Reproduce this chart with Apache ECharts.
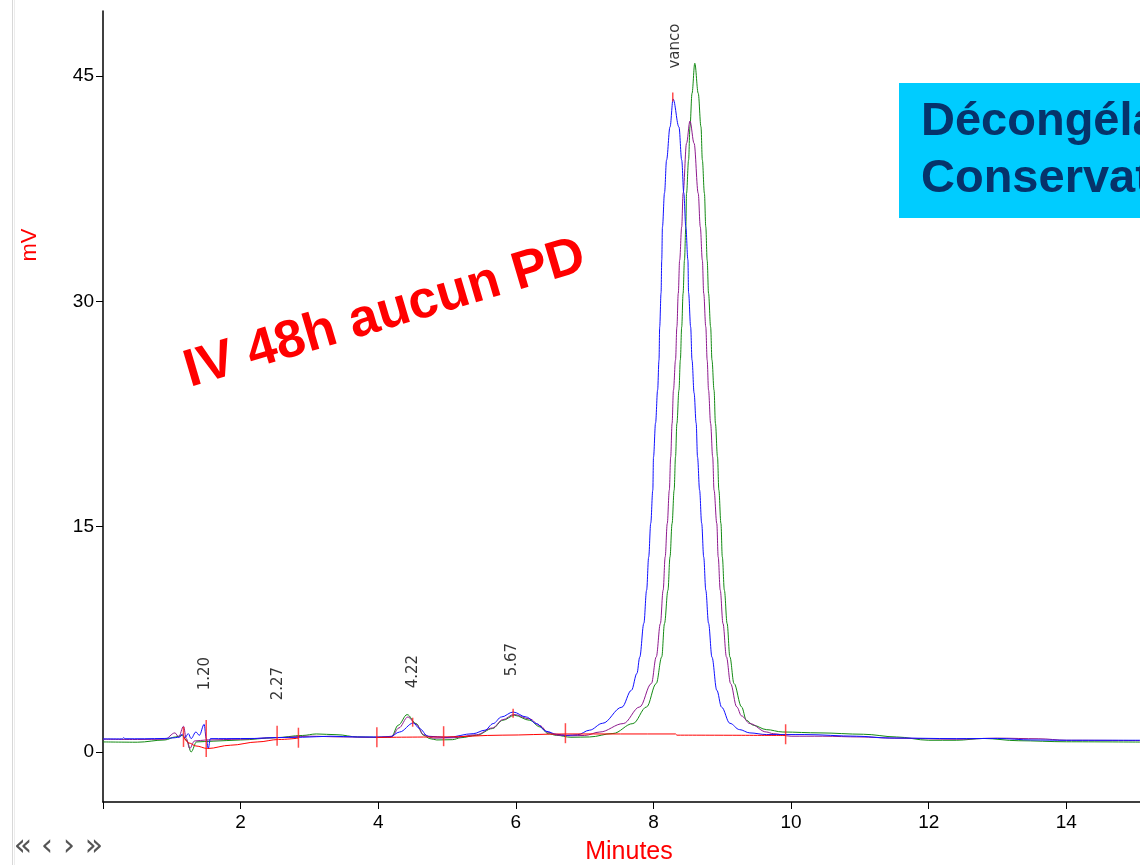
<!DOCTYPE html>
<html>
<head>
<meta charset="utf-8">
<script src="https://cdn.jsdelivr.net/npm/echarts@6.0.0/dist/echarts.min.js"></script>
<style>
  html, body { margin: 0; padding: 0; background: #fff; }
  #chrom { width: 1140px; height: 865px; }
</style>
</head>
<body>
<div id="chrom"></div>
<script>
// traces: [minutes, mV]
var blueTrace = [
  [0, 0.87], [0.28, 0.87], [0.3, 0.95], [0.32, 0.88], [0.6, 0.88], [0.9, 0.9], [1.05, 0.95],
  [1.12, 1.0], [1.15, 1.2], [1.19, 0.95], [1.24, 1.22], [1.28, 0.89], [1.35, 1.33], [1.40, 1.11],
  [1.47, 1.84], [1.50, 0.9], [1.53, 0.23], [1.56, 0.89], [1.8, 0.89], [2.2, 0.9], [2.5, 0.96],
  [2.9, 0.98], [3.3, 1.05], [3.7, 1.0], [4.17, 1.0], [4.31, 1.33], [4.51, 1.93], [4.60, 1.56],
  [4.72, 1.05], [5.0, 0.97], [5.38, 1.22], [5.55, 1.45], [5.67, 1.89], [5.79, 2.33], [5.96, 2.66],
  [6.15, 2.33], [6.30, 1.89], [6.44, 1.38], [6.59, 1.18], [6.74, 1.11], [6.9, 1.15],
  [7.07, 1.45], [7.26, 1.91], [7.54, 2.98], [7.68, 4.11], [7.76, 5.24], [7.80, 6.31], [7.86, 8.57],
  [7.90, 10.77], [7.93, 12.97], [7.96, 15.23], [7.99, 17.43], [8.00, 19.63], [8.03, 21.9],
  [8.06, 24.1], [8.08, 26.09], [8.09, 28.3], [8.11, 30.56], [8.12, 32.76], [8.13, 34.95],
  [8.16, 37.22], [8.19, 39.41], [8.24, 41.61], [8.285, 43.47], [8.37, 41.61], [8.41, 39.41],
  [8.44, 37.22], [8.47, 34.95], [8.50, 32.76], [8.51, 30.56], [8.54, 28.3], [8.56, 26.09],
  [8.59, 23.9], [8.62, 21.9], [8.64, 19.63], [8.67, 17.43], [8.70, 15.23], [8.73, 12.97],
  [8.76, 10.77], [8.80, 8.57], [8.85, 6.31], [8.92, 4.11], [8.99, 2.98], [9.11, 1.91],
  [9.25, 1.49], [9.4, 1.27], [9.64, 1.16], [10.2, 1.16], [10.95, 1.05], [11.43, 0.93],
  [12.4, 0.89], [13.0, 0.9], [13.5, 0.8], [14.0, 0.78], [15.07, 0.78]
];

var purpleTrace = [
  [0, 0.85], [0.5, 0.83], [0.9, 0.85], [1.045, 1.27], [1.10, 1.0], [1.17, 1.71], [1.21, 0.9],
  [1.26, 0.23], [1.33, 0.73], [1.5, 0.8], [2.0, 0.85], [2.5, 0.95], [3.0, 1.05], [3.5, 1.0],
  [4.0, 0.97], [4.2, 1.05], [4.3, 1.6], [4.43, 2.33], [4.55, 1.85], [4.66, 1.15], [4.8, 0.92],
  [5.1, 0.95], [5.43, 1.15], [5.66, 1.6], [5.81, 2.15], [5.97, 2.5], [6.20, 2.2], [6.35, 1.75],
  [6.47, 1.3], [6.6, 1.12], [6.8, 1.08], [7.0, 1.1],
  [7.22, 1.33], [7.56, 1.89], [7.80, 3.0], [7.97, 4.56], [8.04, 6.33], [8.10, 8.55], [8.14, 10.77],
  [8.17, 12.99], [8.20, 15.21], [8.23, 17.43], [8.25, 19.65], [8.27, 21.87], [8.29, 24.09],
  [8.32, 26.09], [8.34, 28.30], [8.36, 30.53], [8.38, 32.74], [8.41, 34.96], [8.43, 37.19],
  [8.48, 40.52], [8.53, 42.0], [8.59, 40.52], [8.65, 37.19], [8.68, 34.96], [8.71, 32.74],
  [8.73, 30.53], [8.76, 28.30], [8.78, 26.09], [8.80, 24.09], [8.83, 21.87], [8.86, 19.65],
  [8.88, 17.43], [8.92, 15.21], [8.94, 12.99], [8.97, 10.77], [9.01, 8.55], [9.06, 6.33],
  [9.12, 4.56], [9.21, 3.0], [9.28, 2.4], [9.40, 1.89], [9.64, 1.33], [9.74, 1.22], [10.0, 1.05],
  [10.46, 1.05], [11.0, 1.0], [11.5, 0.92], [12.4, 0.85], [13.0, 0.92], [13.6, 0.88],
  [14.0, 0.78], [15.07, 0.76]
];

var greenTrace = [
  [0, 0.67], [0.5, 0.65], [0.9, 0.8], [1.05, 1.0], [1.15, 1.1], [1.22, 0.75], [1.28, 0.0],
  [1.36, 0.67], [1.6, 0.72], [2.0, 0.8], [2.5, 0.95], [2.9, 1.1], [3.1, 1.2], [3.4, 1.15],
  [3.7, 1.0], [4.0, 0.97], [4.19, 1.0], [4.29, 1.78], [4.42, 2.49], [4.55, 1.89], [4.66, 1.11],
  [4.75, 0.89], [4.85, 0.8], [5.08, 0.82], [5.2, 0.95], [5.43, 1.11], [5.66, 1.56], [5.81, 2.11],
  [5.98, 2.44], [6.20, 2.11], [6.35, 1.67], [6.47, 1.22], [6.59, 1.11], [6.8, 0.98], [7.07, 1.0],
  [7.41, 1.23], [7.70, 1.89], [7.90, 3.0], [8.04, 4.56], [8.12, 6.33], [8.16, 8.55], [8.21, 10.77],
  [8.24, 12.99], [8.27, 15.21], [8.30, 17.43], [8.32, 19.65], [8.34, 21.87], [8.37, 24.09],
  [8.39, 26.09], [8.41, 28.30], [8.43, 30.53], [8.45, 32.74], [8.47, 34.96], [8.48, 37.19],
  [8.51, 39.41], [8.53, 41.62], [8.56, 43.85], [8.60, 45.85], [8.65, 43.85], [8.69, 41.62],
  [8.71, 39.41], [8.74, 37.19], [8.76, 34.96], [8.78, 32.74], [8.80, 30.53], [8.83, 28.30],
  [8.85, 26.09], [8.88, 24.09], [8.90, 21.87], [8.93, 19.65], [8.95, 17.43], [8.98, 15.21],
  [9.00, 12.99], [9.03, 10.77], [9.07, 8.55], [9.11, 6.33], [9.17, 4.56], [9.28, 3.0],
  [9.35, 2.11], [9.45, 1.78], [9.64, 1.49], [9.88, 1.33], [10.42, 1.27], [11.05, 1.18],
  [11.53, 1.0], [12.0, 0.78], [12.4, 0.78], [12.8, 0.9], [13.3, 0.75], [14.0, 0.68], [15.07, 0.66]
];

// integration baseline (red), two pieces
var baselineA = [
  [1.17, 1.0], [1.25, 0.6], [1.35, 0.4], [1.52, 0.23], [1.85, 0.45], [2.25, 0.67], [2.55, 0.83], [2.84, 0.92]
];
var baselineB = [
  [3.98, 0.97], [4.95, 1.0], [5.8, 1.12], [6.72, 1.2], [8.32, 1.2], [8.34, 1.12], [9.92, 1.1]
];

// red tick marks: peak start/end and apex
var boundTicks = [[1.17, 1.0], [2.53, 1.08], [2.84, 0.95], [3.98, 0.98], [4.95, 1.05], [6.72, 1.25], [9.92, 1.18]];
var longTicks = [[1.50, 0.9]];
var apexTicks = [[4.50, 1.98], [5.96, 2.58], [8.28, 43.6]];

// peak annotations
var peakNames = ['1.20', '2.27', '4.22', '5.67', 'vanco'];
var peakTimes = [1.48, 2.54, 4.50, 5.95, 8.32];
var peakLabelLevels = [4.11, 3.44, 4.24, 5.04, 45.5];

var xTickValues = [0, 2, 4, 6, 8, 10, 12, 14];
var xLabelValues = [2, 4, 6, 8, 10, 12, 14];
var yTickValues = [0, 15, 30, 45];

var peakData = []
for (var i = 0; i < peakNames.length; ++i) {
  peakData.push({ value: [peakTimes[i], peakLabelLevels[i]], name: peakNames[i] })
}

var tickFont = 'Liberation Sans Narrow, Arial Narrow, sans-serif'

function trace(data, color, z) {
  return {
    type: 'line', data: data, showSymbol: false, smooth: 0.35, smoothMonotone: 'x',
    lineStyle: { color: color, width: 1 }, z: z, silent: true
  }
}

function ticks(data, h) {
  return {
    type: 'scatter', data: data, symbol: 'rect', symbolSize: [1.5, h],
    itemStyle: { color: '#ff2020' }, z: 6, silent: true
  }
}

var chart = echarts.init(document.getElementById('chrom'), null, { renderer: 'canvas' })

chart.setOption({
  animation: false,
  backgroundColor: '#fff',
  grid: { left: 103, top: 11, right: 0, bottom: 63 },
  xAxis: {
    type: 'value', min: 0, max: 15.07,
    axisLine: { onZero: false, lineStyle: { color: '#000', width: 1.5 } },
    axisTick: { customValues: xTickValues, length: 7, lineStyle: { color: '#000', width: 1 } },
    axisLabel: { customValues: xLabelValues, margin: 11, color: '#000', fontSize: 19, fontFamily: tickFont },
    splitLine: { show: false }
  },
  yAxis: {
    type: 'value', min: -3.33, max: 49.33,
    axisLine: { show: true, onZero: false, lineStyle: { color: '#000', width: 1.5 } },
    axisTick: { show: true, customValues: yTickValues, length: 7, lineStyle: { color: '#000', width: 1 } },
    axisLabel: { customValues: yTickValues, margin: 9, color: '#000', fontSize: 19, fontFamily: tickFont },
    splitLine: { show: false }
  },
  series: [
    trace(greenTrace, '#138a13', 2),
    trace(purpleTrace, '#8e1a8e', 3),
    trace(blueTrace, '#1010ff', 4),
    trace(baselineA, '#ff0000', 5),
    trace(baselineB, '#ff0000', 5),
    ticks(boundTicks, 20),
    ticks(longTicks, 37),
    ticks(apexTicks, 9),
    {
      type: 'scatter', data: peakData, symbolSize: 0, silent: true, z: 7,
      label: {
        show: true, formatter: '{b}', position: [0, 0], rotate: 90,
        align: 'left', verticalAlign: 'middle',
        fontFamily: 'DejaVu Sans', fontSize: 15, color: '#000'
      }
    }
  ],
  graphic: [
    // page border at the left
    { type: 'rect', shape: { x: 12, y: 0, width: 1, height: 865 }, style: { fill: '#d8d8d8' } },
    { type: 'rect', shape: { x: 14, y: 0, width: 1, height: 865 }, style: { fill: '#ececec' } },
    { type: 'text', x: 30, y: 245, rotation: Math.PI / 2,
      style: { text: 'mV', fill: '#ff0000', fontSize: 22, fontFamily: tickFont, align: 'center', verticalAlign: 'middle' } },
    { type: 'text', x: 629, y: 852,
      style: { text: 'Minutes', fill: '#ff0000', fontSize: 25, fontFamily: tickFont, align: 'center', verticalAlign: 'middle' } },
    // navigation arrows
    { type: 'text', x: 23, y: 847, style: { text: '«', fill: '#555', fontSize: 30, fontFamily: 'DejaVu Sans', align: 'center', verticalAlign: 'middle' } },
    { type: 'text', x: 47, y: 847, style: { text: '‹', fill: '#555', fontSize: 30, fontFamily: 'DejaVu Sans', align: 'center', verticalAlign: 'middle' } },
    { type: 'text', x: 69, y: 847, style: { text: '›', fill: '#555', fontSize: 30, fontFamily: 'DejaVu Sans', align: 'center', verticalAlign: 'middle' } },
    { type: 'text', x: 94, y: 847, style: { text: '»', fill: '#555', fontSize: 30, fontFamily: 'DejaVu Sans', align: 'center', verticalAlign: 'middle' } },
    // slide overlays
    { type: 'text', x: 385, y: 314, rotation: 0.288, z: 20,
      style: { text: 'IV 48h aucun PD', fill: '#ff0000', fontSize: 53, fontWeight: 'bold',
               fontFamily: 'Liberation Sans, Arial, sans-serif', align: 'center', verticalAlign: 'middle' } },
    { type: 'rect', z: 20, shape: { x: 899, y: 83, width: 241, height: 135 }, style: { fill: '#00ccff' } },
    { type: 'text', x: 921, y: 122, z: 21,
      style: { text: 'Décongélation', fill: '#06336b', fontSize: 47, fontWeight: 'bold',
               fontFamily: 'Liberation Sans, Arial, sans-serif', align: 'left', verticalAlign: 'middle' } },
    { type: 'text', x: 921, y: 179, z: 21,
      style: { text: 'Conservation', fill: '#06336b', fontSize: 47, fontWeight: 'bold',
               fontFamily: 'Liberation Sans, Arial, sans-serif', align: 'left', verticalAlign: 'middle' } }
  ]
})
</script>
</body>
</html>
